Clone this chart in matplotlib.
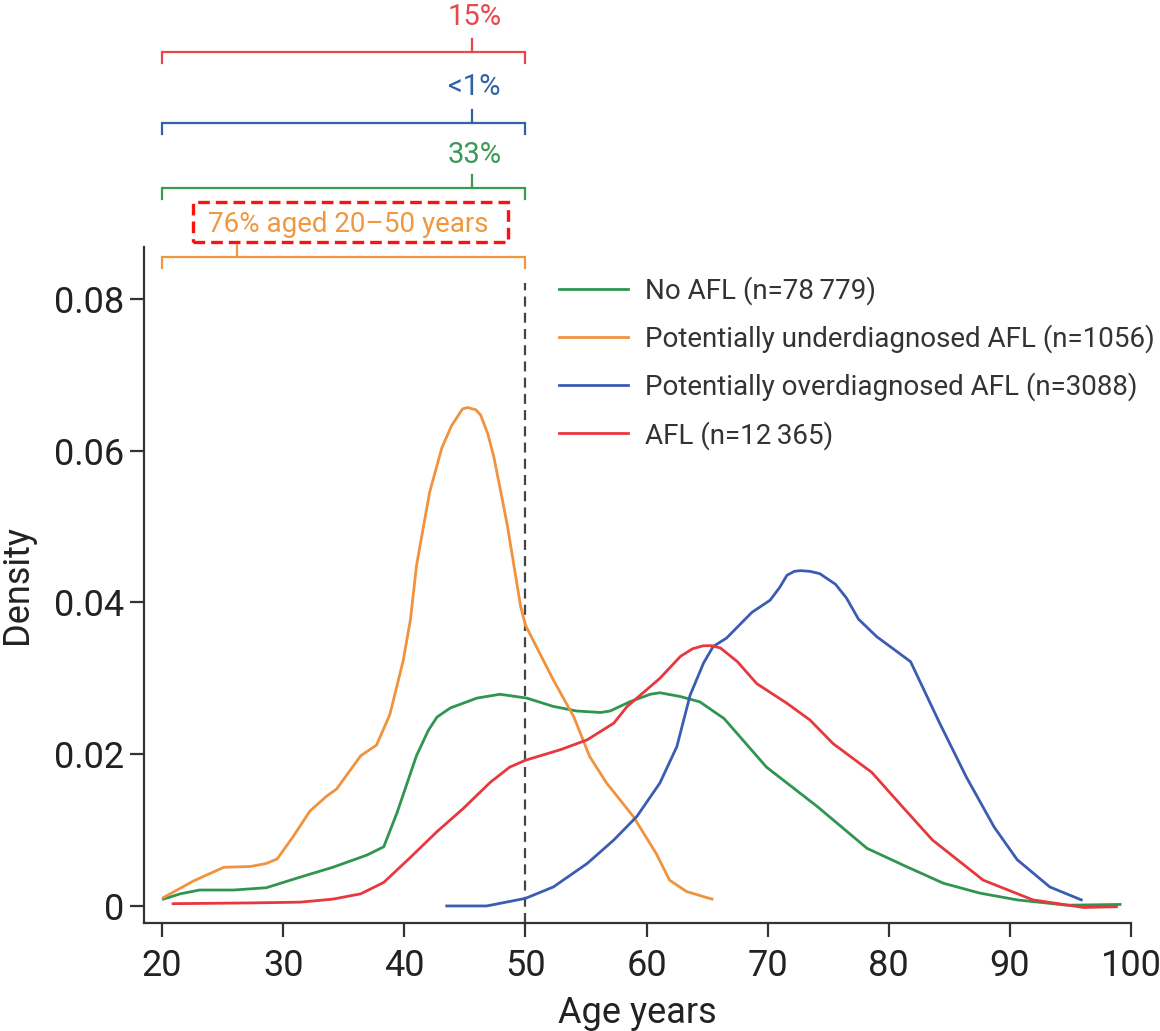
import matplotlib.pyplot as plt
from matplotlib.patches import Rectangle

plt.rcParams['font.family'] = ['Roboto', 'DejaVu Sans']

# density curves (age in years, density)
no_afl_age = [20.1, 21.5, 23.1, 25.9, 28.6, 31.4, 34.1, 36.9, 38.3, 39.4, 41.0, 42.0, 42.7,
              43.8, 46.0, 47.9, 50.1, 52.3, 54.2, 56.2, 57.0, 58.6, 60.3, 61.1, 62.8, 64.4,
              66.4, 69.9, 74.1, 78.2, 81.3, 84.5, 87.5, 90.6, 94.7, 99.1]
no_afl_density = [0.0009, 0.0016, 0.0021, 0.0021, 0.0024, 0.0038, 0.0051, 0.0067, 0.0078,
                  0.0123, 0.0198, 0.0232, 0.0249, 0.0261, 0.0274, 0.0279, 0.0274, 0.0263,
                  0.0257, 0.0255, 0.0257, 0.0269, 0.0279, 0.0281, 0.0276, 0.0269, 0.0247,
                  0.0183, 0.0131, 0.0076, 0.0053, 0.0030, 0.0017, 0.0008, 0.0001, 0.0002]

under_age = [20.1, 22.6, 25.1, 27.3, 28.6, 29.5, 30.8, 32.2, 33.6, 34.4, 36.4, 37.7, 38.8,
             39.9, 40.5, 41.0, 41.6, 42.1, 43.1, 43.9, 44.8, 45.2, 45.9, 46.3, 46.9, 47.4,
             47.9, 48.5, 49.6, 50.0, 52.3, 54.0, 55.3, 56.7, 58.9, 60.8, 61.9, 63.3, 65.4]
under_density = [0.0011, 0.0033, 0.0051, 0.0052, 0.0056, 0.0062, 0.0091, 0.0125, 0.0145,
                 0.0154, 0.0198, 0.0212, 0.0252, 0.0323, 0.0377, 0.0448, 0.0502, 0.0546,
                 0.0604, 0.0633, 0.0655, 0.0657, 0.0654, 0.0647, 0.0622, 0.0591, 0.0551,
                 0.0502, 0.0395, 0.0370, 0.0298, 0.0249, 0.0197, 0.0162, 0.0118, 0.0069,
                 0.0034, 0.0019, 0.0009]

over_age = [43.5, 46.8, 50.0, 52.3, 55.1, 57.3, 59.2, 61.1, 62.5, 63.6, 64.7, 65.5, 66.6,
            68.7, 70.2, 71.0, 71.6, 72.2, 72.7, 73.5, 74.3, 75.6, 76.5, 77.5, 79.0, 81.8,
            84.2, 86.4, 88.7, 90.6, 93.3, 95.9]
over_density = [0.0000, 0.0000, 0.0010, 0.0025, 0.0056, 0.0087, 0.0118, 0.0162, 0.0210,
                0.0278, 0.0320, 0.0342, 0.0353, 0.0387, 0.0403, 0.0420, 0.0436, 0.0441,
                0.0442, 0.0441, 0.0438, 0.0424, 0.0406, 0.0378, 0.0355, 0.0322, 0.0241,
                0.0170, 0.0104, 0.0061, 0.0025, 0.0008]

afl_age = [20.9, 27.3, 31.4, 34.1, 36.4, 38.3, 40.5, 42.7, 44.9, 47.1, 48.7, 50.0, 50.4,
           52.9, 55.1, 57.3, 58.4, 61.1, 62.8, 63.8, 64.7, 65.4, 66.1, 67.5, 69.1, 71.6,
           73.5, 75.4, 78.6, 81.0, 83.6, 87.8, 91.9, 96.1, 98.8]
afl_density = [0.0003, 0.0004, 0.0005, 0.0009, 0.0016, 0.0031, 0.0064, 0.0098, 0.0129,
               0.0163, 0.0183, 0.0192, 0.0194, 0.0206, 0.0219, 0.0241, 0.0263, 0.0300,
               0.0329, 0.0339, 0.0343, 0.0343, 0.0340, 0.0322, 0.0293, 0.0267, 0.0245,
               0.0214, 0.0176, 0.0133, 0.0087, 0.0034, 0.0008, -0.0002, -0.0001]

labels = ['No AFL (n=78\u2009779)', 'Potentially underdiagnosed AFL (n=1056)',
          'Potentially overdiagnosed AFL (n=3088)', 'AFL (n=12\u2009365)']
colors = ['#2f9550', '#f0923e', '#3a5cb2', '#e6383d']

# share of each group aged 20-50, top to bottom
bracket_texts = ['15%', '<1%', '33%', '76% aged 20\u201350 years']
bracket_colors = ['#e8474c', '#2f63a8', '#3a9a55', '#f0983f']
age_span = (20, 50)

x_ticks = [20, 30, 40, 50, 60, 70, 80, 90, 100]
y_ticks = [0, 0.02, 0.04, 0.06, 0.08]
y_ticklabels = ['0', '0.02', '0.04', '0.06', '0.08']

fig = plt.figure(figsize=(11.6, 10.31), dpi=100)
ax = fig.add_axes([0.1241, 0.1048, 0.8509, 0.6556])

series = [(no_afl_age, no_afl_density), (under_age, under_density),
          (over_age, over_density), (afl_age, afl_density)]
for (xs, ys), lab, col in zip(series, labels, colors):
    ax.plot(xs, ys, color=col, lw=2.0, label=lab, solid_joinstyle='round')

ax.set_xlim(18.5, 100)
ax.set_ylim(-0.00224, 0.08685)
ax.vlines(50, -0.00224, 0.0821, colors='#444444', lw=1.6,
          linestyles=(0, (4.5, 2.8)), zorder=1)

for s in ['top', 'right']:
    ax.spines[s].set_visible(False)
for s in ['left', 'bottom']:
    ax.spines[s].set_linewidth(1.6)
    ax.spines[s].set_color('#333333')

ax.set_xticks(x_ticks)
ax.set_yticks(y_ticks)
ax.set_yticklabels(y_ticklabels)
ax.tick_params(axis='both', length=10, width=1.6, color='#333333',
               labelsize=26, labelcolor='#222222')
ax.tick_params(axis='x', pad=8)
ax.tick_params(axis='y', pad=4)
ax.set_xlabel('Age years', fontsize=26, color='#222222', labelpad=8)
ax.set_ylabel('Density', fontsize=26, color='#222222', labelpad=14)

leg = ax.legend(loc='upper left', bbox_to_anchor=(0.42, 0.957), frameon=False,
                fontsize=20, handlelength=2.5, handletextpad=0.62,
                labelspacing=0.7, borderpad=0, borderaxespad=0)
for t in leg.get_texts():
    t.set_color('#333333')

# brackets above the plot (pixel rows converted to data units)
bracket_y = [0.1126, 0.1032, 0.0946, 0.0855]
text_y = [0.1161, 0.1069, 0.0979]
leg_len = 0.00145
x0, x1 = age_span
for i, (txt, col, by) in enumerate(zip(bracket_texts, bracket_colors, bracket_y)):
    ax.plot([x0, x0, x1, x1], [by - leg_len, by, by, by - leg_len], color=col,
            lw=1.6, clip_on=False, solid_joinstyle='miter')
    if i < 3:
        ax.plot([45.6, 45.6], [by, by + 0.0017], color=col, lw=1.6, clip_on=False)
        ax.text(45.8, text_y[i], txt, color=col, fontsize=21, ha='center',
                va='baseline')
    else:
        ax.plot([26.2, 26.2], [by, 0.0871], color=col, lw=1.6, clip_on=False)
        ax.text(35.4, 0.08983, txt, color=col, fontsize=20, ha='center', va='center')
        ax.add_patch(Rectangle((22.56, 0.0875), 48.57 - 22.56, 0.0928 - 0.0875,
                               fill=False, edgecolor='#ff1010', lw=2.4,
                               linestyle=(0, (3.5, 1.8)), clip_on=False))

fig.savefig('out.png', dpi=100)
